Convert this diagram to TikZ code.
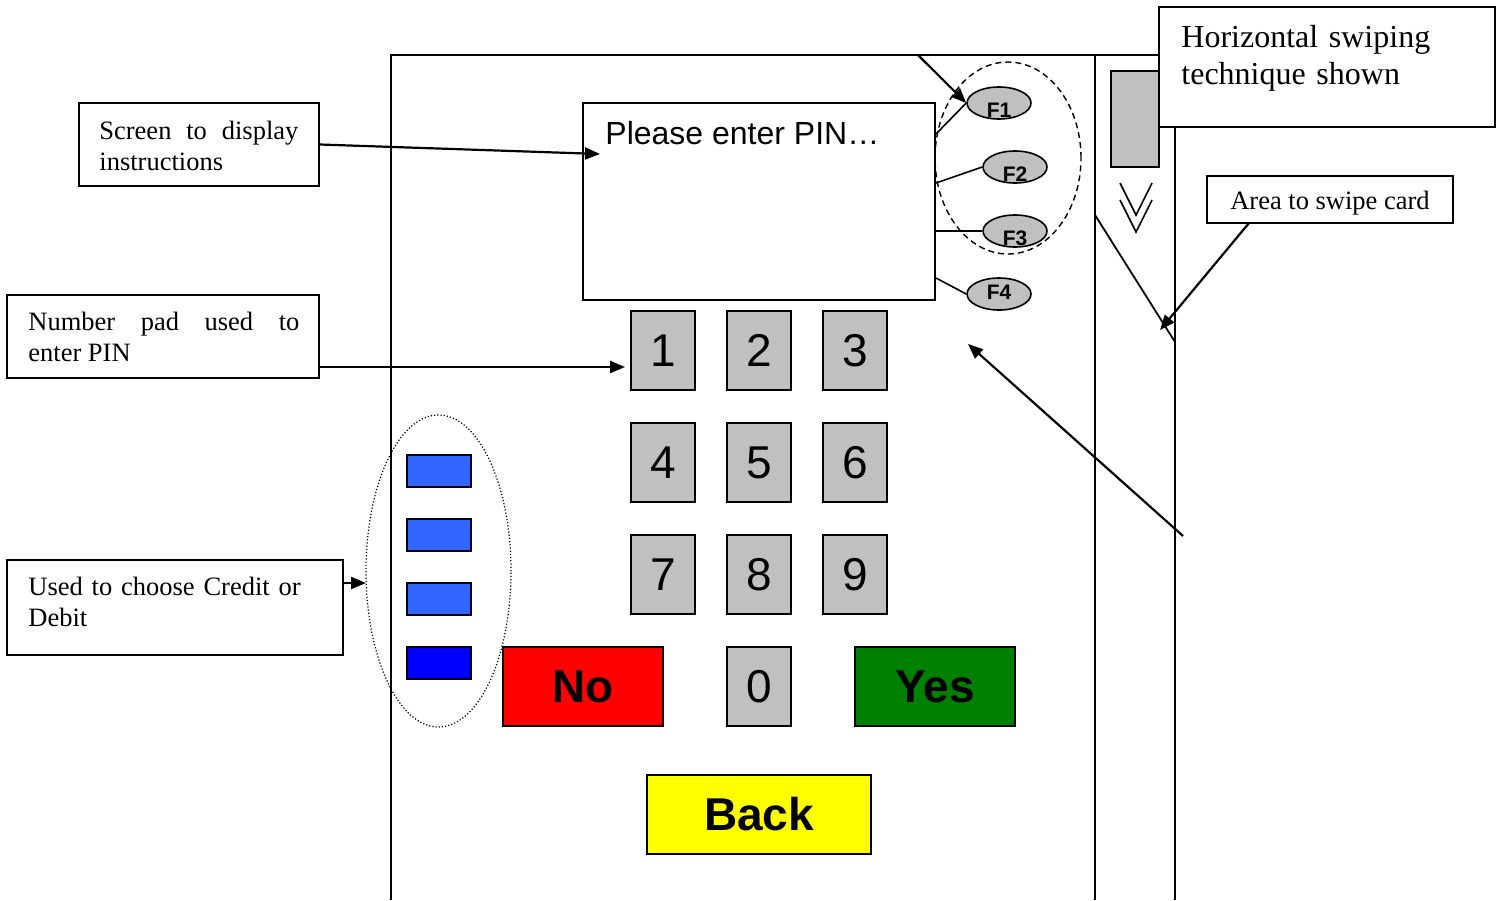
\documentclass[tikz,border=0pt]{standalone}
\usepackage{fontspec}
\setmainfont{Liberation Serif}
\newfontfamily\sansf{Liberation Sans}
\usetikzlibrary{arrows.meta,fit,calc,shapes.geometric}

\definecolor{keygray}{HTML}{C0C0C0}
\definecolor{selblue}{HTML}{3366FF}
\definecolor{deepblue}{HTML}{0000FF}
\definecolor{okgreen}{HTML}{008000}
\definecolor{nored}{HTML}{FF0000}
\definecolor{backyellow}{HTML}{FFFF00}

\begin{document}
\begin{tikzpicture}[x=0.5pt,y=-0.5pt,
  frame/.style={line width=1.3pt},
  box/.style={draw, line width=1pt, fill=white, inner sep=0pt},
  note/.style={inner sep=0pt, anchor=north west, font=\fontsize{13.25}{15.5}\selectfont},
  key/.style={draw, line width=1pt, fill=keygray, minimum width=32pt, minimum height=39.5pt,
    inner sep=0pt, font=\sansf\fontsize{23}{27}\selectfont},
  wide/.style={key, minimum width=80pt, font=\sansf\bfseries\fontsize{23}{27}\selectfont},
  fkey/.style={ellipse, draw, fill=keygray, line width=0.8pt, minimum width=32pt,
    minimum height=16pt, inner sep=0pt},
  flabel/.style={inner sep=0pt, font=\sansf\bfseries\fontsize{10.5}{12}\selectfont},
  sel/.style={draw, line width=1pt, minimum width=32pt, minimum height=16pt, inner sep=0pt},
  arr/.style={line width=1.1pt, -{Triangle[length=7.5pt,width=6pt]}},
  conn/.style={line width=0.8pt}
]
\useasboundingbox (0,0) rectangle (1502,900);

% terminal body and card reader slot
\draw[frame] (391,900) -- (391,55) -- (1175,55);
\draw[frame] (1095,55) -- (1095,900);
\draw[frame] (1175,55) -- (1175,900);
\draw[line width=0.9pt] (1095,215) -- (1175,342);
\node[draw, fill=keygray, line width=1pt, inner sep=0pt, fit={(1111,71) (1159,167)}] (card) {};
\draw[line width=0.8pt] (1120,183) -- (1136,215) -- (1152,183);
\draw[line width=0.8pt] (1120,200) -- (1136,232) -- (1152,200);

% annotation boxes
\node[box, fit={(1159,7) (1495,127)}] (hbox) {};
\node[inner sep=0pt, anchor=north west, text width=145pt, align=left,
  font=\fontsize{16}{18.5}\selectfont] (htext) at (1181,21) {\strut Horizontal swiping\\technique shown};
\node[box, fit={(1207,176) (1453,223)}] (areabox) {};
\node[inner sep=0pt, anchor=base, font=\fontsize{13.25}{15.5}\selectfont] (areatext) at (1330,209) {Area to swipe card};

\node[box, fit={(79,103) (319,186)}] (scrbox) {};
\node[note, text width=99.5pt, align=justify] (scrtext) at (99,117.3) {\strut Screen to display\linebreak instructions};
\node[box, fit={(7,295) (319,378)}] (padbox) {};
\node[note, text width=135.5pt, align=justify] (padtext) at (28,308.3) {\strut Number pad used to\linebreak enter PIN};
\node[box, fit={(7,560) (343,655)}] (credbox) {};
\node[note, text width=145pt, align=left] (credtext) at (28,573.3) {\strut Used to choose Credit or\\Debit};

% display
\node[draw, line width=1pt, inner sep=0pt, fit={(583,103) (935,300)}] (screen) {};
\node[inner sep=0pt, anchor=base west, font=\sansf\fontsize{16}{19}\selectfont] (prompt) at (605,144) {Please enter PIN…};

% function keys
\node[fkey] (f1) at (999,103) {};
\node[fkey] (f2) at (1015,167) {};
\node[fkey] (f3) at (1015,231) {};
\node[fkey] (f4) at (999,294) {};
\node[flabel] (f1t) at ($(f1.center)+(0,7)$) {F1};
\node[flabel] (f2t) at ($(f2.center)+(0,7)$) {F2};
\node[flabel] (f3t) at ($(f3.center)+(0,7)$) {F3};
\node[flabel] (f4t) at ($(f4.center)+(0,-2)$) {F4};
\draw[conn] ($(screen.north east)+(0,32)$) -- (f1.west);
\draw[conn] ($(screen.north east)+(0,81)$) -- (f2.west);
\draw[conn] ($(screen.north east)+(0,129)$) -- (f3.west);
\draw[conn] ($(screen.north east)+(0,176)$) -- (f4.west);
\node[ellipse, draw, dashed, dash pattern=on 3pt off 2pt, line width=0.7pt,
  minimum width=73pt, minimum height=96pt, inner sep=0pt] (fgroup) at (1008,158) {};

% number pad
\node[key] (k1) at (663,350.5) {1};
\node[key] (k2) at (759,350.5) {2};
\node[key] (k3) at (855,350.5) {3};
\node[key] (k4) at (663,462.5) {4};
\node[key] (k5) at (759,462.5) {5};
\node[key] (k6) at (855,462.5) {6};
\node[key] (k7) at (663,574.5) {7};
\node[key] (k8) at (759,574.5) {8};
\node[key] (k9) at (855,574.5) {9};
\node[key] (k0) at (759,686.5) {0};
\node[wide, fill=nored] (no) at (583,686.5) {No};
\node[wide, fill=okgreen] (yes) at (935,686.5) {Yes};
\node[wide, fill=backyellow, minimum width=112pt] (back) at (759,814.5) {Back};

% credit / debit selection keys
\node[sel, fill=selblue] (s1) at (439,471) {};
\node[sel, fill=selblue] (s2) at (439,535) {};
\node[sel, fill=selblue] (s3) at (439,599) {};
\node[sel, fill=deepblue] (s4) at (439,663) {};
\node[ellipse, draw, dash pattern=on 0.6pt off 1pt, line width=0.6pt,
  minimum width=72.5pt, minimum height=156pt, inner sep=0pt] (sgroup) at (438.5,571) {};

% pointers
\coordinate (scrtip) at (600,154);
\coordinate (padtip) at (625,367);
\coordinate (credtip) at (366,583);
\coordinate (topA) at (918,55);
\coordinate (tailB) at (1183,536);
\coordinate (tipB) at (968,344);
\coordinate (areastart) at (1249,223);
\coordinate (swipe) at (1160,330);
\draw[arr] (scrbox.east) -- (scrtip);
\draw[arr] (padbox.east |- padtip) -- (padtip);
\draw[arr] (credbox.east |- credtip) -- (credtip);
\draw[arr] (topA) -- (f1.west);
\draw[arr] (tailB) -- (tipB);
\draw[arr] (areastart) -- (swipe);
\end{tikzpicture}
\end{document}
